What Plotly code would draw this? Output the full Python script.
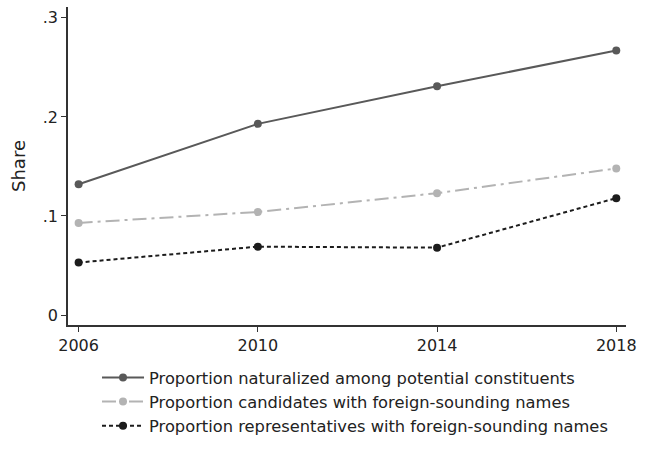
import plotly.graph_objects as go

years = [2006, 2010, 2014, 2018]
naturalized = [0.132, 0.193, 0.231, 0.267]
candidates = [0.093, 0.104, 0.123, 0.148]
representatives = [0.053, 0.069, 0.068, 0.118]

names = [
    "Proportion naturalized among potential constituents",
    "Proportion candidates with foreign-sounding names",
    "Proportion representatives with foreign-sounding names",
]
y_tickvals = [0, 0.1, 0.2, 0.3]
y_ticktext = ["0", ".1", ".2", ".3"]

FONT = "DejaVu Sans"

fig = go.Figure()
series = [
    (naturalized, "#595959", "solid", names[0]),
    (candidates, "#b3b3b3", "14px,5px,3px,5px", names[1]),
    (representatives, "#1c1c1c", "4px,3px", names[2]),
]
for vals, color, dash, name in series:
    fig.add_trace(go.Scatter(
        x=years, y=vals, mode="lines+markers", name=name,
        line=dict(color=color, width=2, dash=dash),
        marker=dict(color=color, size=8),
    ))

fig.update_layout(
    width=649, height=457,
    margin=dict(l=68, r=23, t=7, b=132),
    paper_bgcolor="white", plot_bgcolor="white",
    font=dict(family=FONT, size=16, color="#222222"),
    showlegend=True,
    legend=dict(
        x=0.052, y=-0.111, xanchor="left", yanchor="top",
        font=dict(family=FONT, size=16.3, color="#222222"),
        itemwidth=42, tracegroupgap=0,
        bgcolor="rgba(0,0,0,0)",
    ),
    xaxis=dict(
        range=[2005.763, 2018.217], tickvals=years,
        ticks="outside", ticklen=5, tickwidth=1.2, tickcolor="#333333",
        showline=True, linecolor="#333333", linewidth=1.5,
        showgrid=False, zeroline=False, mirror=False,
        tickfont=dict(family=FONT, size=16, color="#222222"),
    ),
    yaxis=dict(
        range=[-0.0101, 0.311], tickvals=y_tickvals, ticktext=y_ticktext,
        ticks="outside", ticklen=5, tickwidth=1.2, tickcolor="#333333",
        showline=True, linecolor="#333333", linewidth=1.5,
        showgrid=False, zeroline=False,
        tickfont=dict(family=FONT, size=16, color="#222222"),
        title=dict(text="Share", font=dict(family=FONT, size=18, color="#222222"), standoff=12),
    ),
)

fig.write_html("out.html", config={"displayModeBar": False},
               post_script="document.body.style.margin='0';")
